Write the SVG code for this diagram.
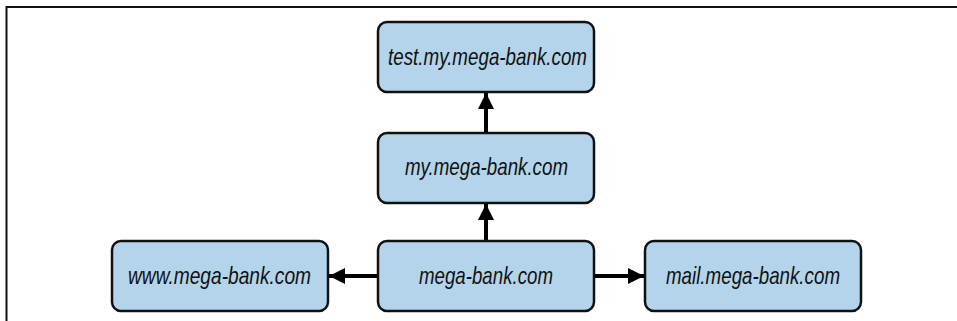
<svg xmlns="http://www.w3.org/2000/svg" width="957" height="321" viewBox="0 0 957 321">
  <style>
    .box { fill: #b3d4ea; stroke: #111; stroke-width: 2.5; }
    .lbl { font-family: "Liberation Sans", Arial, sans-serif; font-style: italic; font-size: 24px; fill: #111; text-anchor: middle; }
    .edge { stroke: #000; stroke-width: 4; fill: none; }
  </style>
  <defs>
    <marker id="head" viewBox="0 0 10 10" refX="10" refY="5" markerWidth="4" markerHeight="5" markerUnits="strokeWidth" orient="auto">
      <path d="M0,0 L10,5 L0,10 Z" fill="#000"/>
    </marker>
  </defs>

  <!-- frame -->
  <path d="M6.5,321 V7 H957" fill="none" stroke="#111" stroke-width="2"/>

  <g id="connectors">
    <line class="edge" x1="486" y1="241" x2="486" y2="204" marker-end="url(#head)"/>
    <line class="edge" x1="486" y1="133" x2="486" y2="93" marker-end="url(#head)"/>
    <line class="edge" x1="378" y1="276" x2="329" y2="276" marker-end="url(#head)"/>
    <line class="edge" x1="594" y1="276" x2="644" y2="276" marker-end="url(#head)"/>
  </g>

  <g id="test-my">
    <rect class="box" x="378" y="22" width="216" height="70" rx="9"/>
    <text class="lbl" x="487.5" y="65" textLength="199" lengthAdjust="spacingAndGlyphs">test.my.mega-bank.com</text>
  </g>
  <g id="my">
    <rect class="box" x="378" y="133" width="216" height="70" rx="9"/>
    <text class="lbl" x="486.5" y="175" textLength="163" lengthAdjust="spacingAndGlyphs">my.mega-bank.com</text>
  </g>
  <g id="root">
    <rect class="box" x="378" y="241" width="216" height="70" rx="9"/>
    <text class="lbl" x="486" y="284" textLength="134" lengthAdjust="spacingAndGlyphs">mega-bank.com</text>
  </g>
  <g id="www">
    <rect class="box" x="112" y="241" width="216" height="70" rx="9"/>
    <text class="lbl" x="219.5" y="284" textLength="183" lengthAdjust="spacingAndGlyphs">www.mega-bank.com</text>
  </g>
  <g id="mail">
    <rect class="box" x="645" y="241" width="216" height="70" rx="9"/>
    <text class="lbl" x="753" y="284" textLength="174" lengthAdjust="spacingAndGlyphs">mail.mega-bank.com</text>
  </g>
</svg>
